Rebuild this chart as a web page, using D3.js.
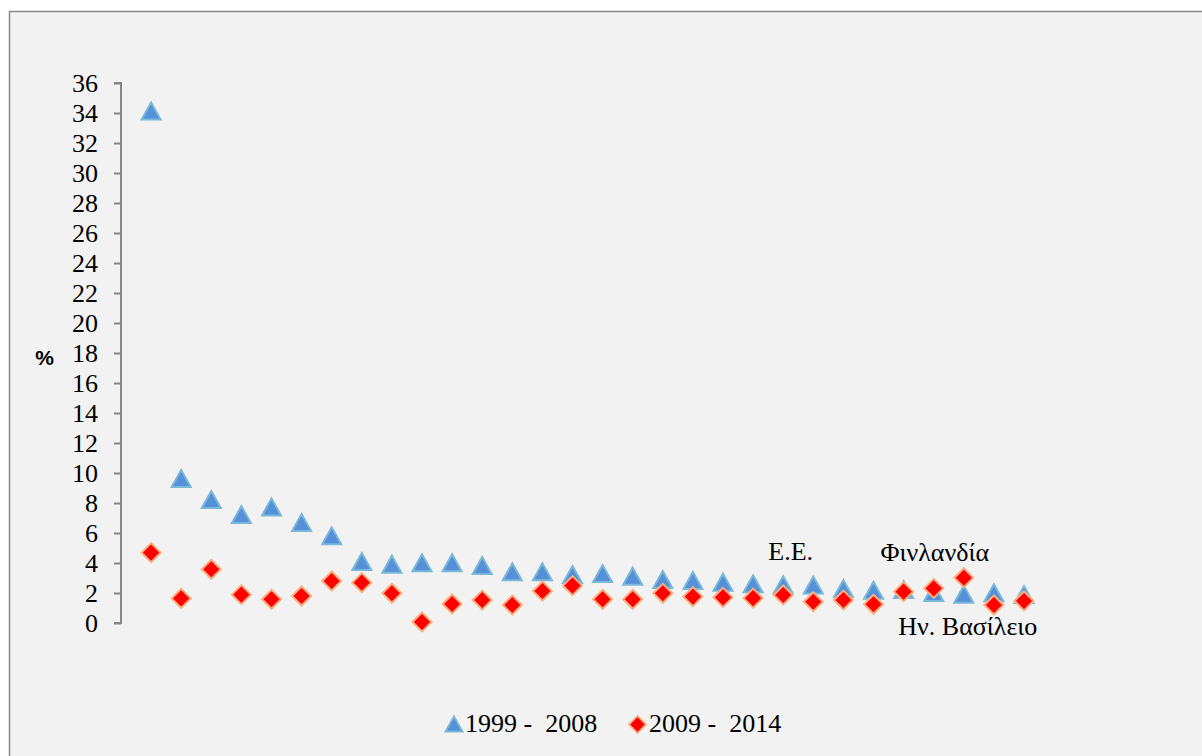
<!DOCTYPE html>
<html>
<head>
<meta charset="utf-8">
<script src="https://cdn.jsdelivr.net/npm/d3@7"></script>
<style>
  html, body { margin: 0; padding: 0; background: #ffffff; }
  svg { display: block; }
</style>
</head>
<body>
<svg id="chart" width="1202" height="756"></svg>
<script>
// Average annual rate (%) per country, two periods
const seriesNames = ["1999 -  2008", "2009 -  2014"];
const period1 = [34.1, 9.6, 8.2, 7.2, 7.7, 6.67, 5.78, 4.07, 3.89, 3.98,
                 3.98, 3.8, 3.38, 3.38, 3.2, 3.27, 3.09, 2.87, 2.8, 2.69,
                 2.58, 2.51, 2.5, 2.27, 2.15, 2.2, 2.0, 1.89, 1.98, 1.87];
const period2 = [4.69, 1.64, 3.58, 1.89, 1.58, 1.8, 2.8, 2.69, 1.98, 0.07,
                 1.27, 1.53, 1.2, 2.13, 2.49, 1.58, 1.58, 1.98, 1.76, 1.71,
                 1.66, 1.87, 1.42, 1.53, 1.25, 2.09, 2.31, 3.02, 1.2, 1.47];
const yTicks = d3.range(0, 37, 2);
// Annotated points: position index (1-based), series, label
const annotations = [
  { index: 22, series: 0, text: "Ε.Ε.", dx: 7.5, dy: -25 },
  { index: 27, series: 1, text: "Φινλανδία", dx: 1, dy: -27 },
  { index: 28, series: 0, text: "Ην. Βασίλειο", dx: 4, dy: 40 }
];

const svg = d3.select("#chart");
const serif = "'Liberation Serif', 'Times New Roman', serif";

// Chart area frame
svg.append("rect")
  .attr("x", 9.5).attr("y", 11.5)
  .attr("width", 1210).attr("height", 770)
  .attr("fill", "#f2f2f2")
  .attr("stroke", "#8a8a8a")
  .attr("stroke-width", 1.5);

const x = d3.scaleLinear().domain([0, 31]).range([121, 121 + 31 * 30.1]);
const y = d3.scaleLinear().domain([0, 36]).range([623, 83]);

// Y axis
const yAxis = d3.axisLeft(y).tickValues(yTicks).tickSize(7).tickPadding(16)
  .tickFormat(d3.format("d"));
const gy = svg.append("g").attr("transform", "translate(121,0)").call(yAxis);
gy.select(".domain").attr("stroke", "#868686").attr("stroke-width", 2)
  .attr("d", `M-7,${y(36)}H0V${y(0)}H-7`);
gy.selectAll(".tick line").attr("stroke", "#868686").attr("stroke-width", 2);
gy.selectAll(".tick text")
  .attr("font-family", serif).attr("font-size", 26).attr("fill", "#000");

// Axis unit
svg.append("text")
  .attr("x", 44.5).attr("y", 364.5)
  .attr("text-anchor", "middle")
  .attr("font-family", "'Liberation Sans', Arial, sans-serif")
  .attr("font-weight", "bold").attr("font-size", 21)
  .text("%");

// Marker shapes, centred on the marker box
const triPath = "M0,-9L9.5,8L-9.5,8Z";
const diaPath = "M0,-9.5L9.5,0L0,9.5L-9.5,0Z";
const styles = [
  { path: triPath, fill: "#5590d8", stroke: "#79b8d8" },
  { path: diaPath, fill: "#ff0000", stroke: "#fbad7d" }
];

// Triangles first, diamonds drawn on top
[period1, period2].forEach((vals, s) => {
  svg.append("g").selectAll("path")
    .data(vals)
    .join("path")
    .attr("d", styles[s].path)
    .attr("transform", (d, i) => `translate(${x(i + 1)},${y(d)})`)
    .attr("fill", styles[s].fill)
    .attr("stroke", styles[s].stroke)
    .attr("stroke-width", 2)
    .attr("stroke-linejoin", "miter");
});

// Point labels
const seriesVals = [period1, period2];
svg.append("g").selectAll("text")
  .data(annotations)
  .join("text")
  .attr("x", d => x(d.index) + d.dx)
  .attr("y", d => y(seriesVals[d.series][d.index - 1]) + d.dy)
  .attr("text-anchor", "middle")
  .attr("font-family", serif).attr("font-size", 26).attr("fill", "#000")
  .text(d => d.text);

// Legend
const legendItems = [
  { name: seriesNames[0], style: styles[0], mx: 454, tx: 465 },
  { name: seriesNames[1], style: styles[1], mx: 637.5, tx: 649 }
];
const lg = svg.append("g");
legendItems.forEach(it => {
  lg.append("path")
    .attr("d", it.style.path)
    .attr("transform", `translate(${it.mx},724.5) scale(0.9)`)
    .attr("fill", it.style.fill)
    .attr("stroke", it.style.stroke)
    .attr("stroke-width", 2);
  lg.append("text")
    .attr("x", it.tx).attr("y", 732)
    .attr("font-family", serif).attr("font-size", 26).attr("fill", "#000")
    .attr("xml:space", "preserve")
    .style("white-space", "pre")
    .text(it.name);
});
</script>
</body>
</html>
